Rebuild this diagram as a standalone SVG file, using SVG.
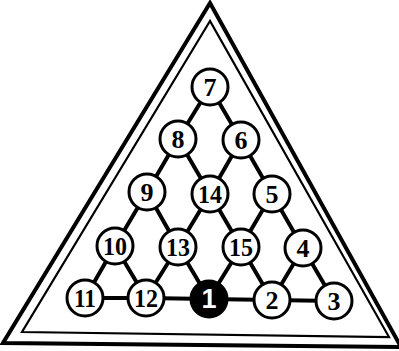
<svg xmlns="http://www.w3.org/2000/svg" width="399" height="351" viewBox="0 0 399 351">
<style>
.n circle{fill:#fff;stroke:#000;stroke-width:3}
.n text{font-family:"Liberation Serif",serif;font-weight:bold;font-size:26px;text-anchor:middle;fill:#000}
.n.dark circle{fill:#000}
.n.dark text{fill:#fff;font-family:"Liberation Sans",sans-serif;font-size:27px}
#edges line{stroke:#000;stroke-width:4;stroke-linecap:round}
</style>
<rect width="399" height="351" fill="#fff"/>
<polygon points="210,3 3,343 401,347" fill="none" stroke="#000" stroke-width="4" stroke-linejoin="miter"/>
<polygon points="210,21 22,332 389,337" fill="none" stroke="#000" stroke-width="2.2"/>
<g id="edges">
<line x1="210" y1="87" x2="178" y2="139"/>
<line x1="210" y1="87" x2="241" y2="140"/>
<line x1="178" y1="139" x2="147" y2="192"/>
<line x1="178" y1="139" x2="210" y2="194"/>
<line x1="241" y1="140" x2="210" y2="194"/>
<line x1="241" y1="140" x2="272" y2="194"/>
<line x1="147" y1="192" x2="115" y2="246"/>
<line x1="147" y1="192" x2="178" y2="247"/>
<line x1="210" y1="194" x2="178" y2="247"/>
<line x1="210" y1="194" x2="241" y2="247"/>
<line x1="272" y1="194" x2="241" y2="247"/>
<line x1="272" y1="194" x2="303" y2="248"/>
<line x1="115" y1="246" x2="85" y2="298"/>
<line x1="115" y1="246" x2="146" y2="298"/>
<line x1="178" y1="247" x2="146" y2="298"/>
<line x1="178" y1="247" x2="209" y2="299"/>
<line x1="241" y1="247" x2="209" y2="299"/>
<line x1="241" y1="247" x2="272" y2="300"/>
<line x1="303" y1="248" x2="272" y2="300"/>
<line x1="303" y1="248" x2="334" y2="301"/>
<line x1="85" y1="298" x2="146" y2="298"/>
<line x1="146" y1="298" x2="209" y2="299"/>
<line x1="209" y1="299" x2="272" y2="300"/>
<line x1="272" y1="300" x2="334" y2="301"/>
</g>
<g id="n7" class="n"><circle cx="210" cy="87" r="18"/><text x="210" y="96">7</text></g>
<g id="n8" class="n"><circle cx="178" cy="139" r="18"/><text x="178" y="148">8</text></g>
<g id="n6" class="n"><circle cx="241" cy="140" r="18"/><text x="241" y="149">6</text></g>
<g id="n9" class="n"><circle cx="147" cy="192" r="18"/><text x="147" y="201">9</text></g>
<g id="n14" class="n"><circle cx="210" cy="194" r="18"/><text x="210" y="203" textLength="24" lengthAdjust="spacingAndGlyphs">14</text></g>
<g id="n5" class="n"><circle cx="272" cy="194" r="18"/><text x="272" y="203">5</text></g>
<g id="n10" class="n"><circle cx="115" cy="246" r="18"/><text x="115" y="255" textLength="24" lengthAdjust="spacingAndGlyphs">10</text></g>
<g id="n13" class="n"><circle cx="178" cy="247" r="18"/><text x="178" y="256" textLength="24" lengthAdjust="spacingAndGlyphs">13</text></g>
<g id="n15" class="n"><circle cx="241" cy="247" r="18"/><text x="241" y="256" textLength="24" lengthAdjust="spacingAndGlyphs">15</text></g>
<g id="n4" class="n"><circle cx="303" cy="248" r="18"/><text x="303" y="257">4</text></g>
<g id="n11" class="n"><circle cx="85" cy="298" r="18"/><text x="85" y="307" textLength="22" lengthAdjust="spacingAndGlyphs">11</text></g>
<g id="n12" class="n"><circle cx="146" cy="298" r="18"/><text x="146" y="307" textLength="24" lengthAdjust="spacingAndGlyphs">12</text></g>
<g id="n1" class="n dark"><circle cx="209" cy="299" r="18"/><text x="209" y="308">1</text></g>
<g id="n2" class="n"><circle cx="272" cy="300" r="18"/><text x="272" y="309">2</text></g>
<g id="n3" class="n"><circle cx="334" cy="301" r="18"/><text x="334" y="310">3</text></g>
</svg>
